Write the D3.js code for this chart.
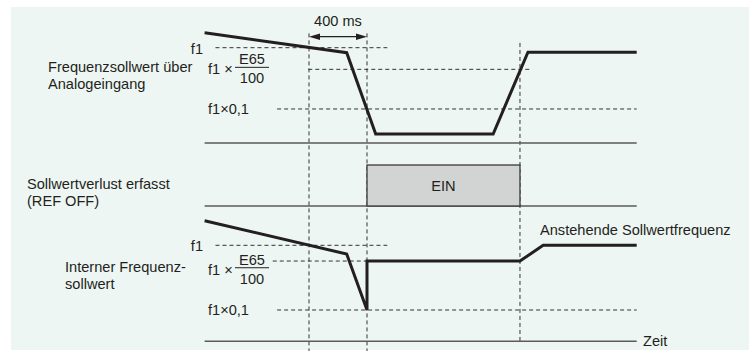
<!DOCTYPE html>
<html>
<head>
<meta charset="utf-8">
<script src="https://cdn.jsdelivr.net/npm/d3@7"></script>
<style>
  html, body { margin: 0; padding: 0; background: #ffffff; }
  svg { display: block; }
  text { font-family: "Liberation Sans", Arial, sans-serif; fill: #231f20; }
</style>
</head>
<body>
<svg id="chart" width="749" height="351"></svg>
<script>
// ---------------- data ----------------
// time in ms, t = 0 at start of reference loss detection window
const timeDomain = [-720, 2260];
const detectWindow = [0, 400];          // 400 ms window
const releaseTime = 1455;               // REF OFF goes off again
const windowLabel = "400 ms";

// levels in % of f1 (schematic)
const analogSignal = [
  { t: -720, v: 115.6 }, { t: 260, v: 94.8 }, { t: 460, v: 9.4 },
  { t: 1270, v: 9.4 }, { t: 1510, v: 95.2 }, { t: 2260, v: 95.2 }
];
const internalSignal = [
  { t: -720, v: 125.6 }, { t: 260, v: 90.9 }, { t: 400, v: 32.6 },
  { t: 400, v: 83.6 }, { t: 1455, v: 83.6 }, { t: 1615, v: 100 }, { t: 2260, v: 100 }
];
const refOffStates = [{ start: 400, end: 1455, label: "EIN" }];

const analogRefLevels = [
  { key: "f1",   v: 100,  t0: -645, t1: 540 },
  { key: "e65",  v: 77.3, t0: -5,   t1: 1540 },
  { key: "f01",  v: 35.7, t0: -220, t1: 2260 }
];
const internalRefLevels = [
  { key: "f1",   v: 100,  t0: -645, t1: 540 },
  { key: "e65",  v: 83.6, t0: -250, t1: 400 },
  { key: "f01",  v: 32.6, t0: -220, t1: 2260 }
];

const rowLabels = [
  ["Frequenzsollwert über", "Analogeingang"],
  ["Sollwertverlust erfasst", "(REF OFF)"],
  ["Interner Frequenz-", "sollwert"]
];
const levelLabels = { f1: "f1", mult: "f1 ×", num: "E65", den: "100", f01: "f1×0,1" };
const pendingLabel = "Anstehende Sollwertfrequenz";
const axisLabel = "Zeit";

// ---------------- drawing ----------------
const svg = d3.select("#chart");
const ink = "#231f20";
const gray = "#5a5a5a";
const FS = 14.6;

svg.append("rect").attr("x", 11).attr("y", 7).attr("width", 738).attr("height", 343)
  .attr("fill", "#eef6f3");

const x = d3.scaleLinear().domain(timeDomain).range([204.6, 636.7]);
const yTop = d3.scaleLinear().domain([0, 100]).range([143, 47.7]);
const yMid = d3.scaleLinear().domain([0, 1]).range([206, 165]);
const yBot = d3.scaleLinear().domain([0, 100]).range([341.3, 245.3]);

const line = (ys) => d3.line().x(d => x(d.t)).y(d => ys(d.v));

function dashedH(ys, lv) {
  svg.append("line")
    .attr("x1", x(lv.t0)).attr("x2", x(lv.t1))
    .attr("y1", ys(lv.v)).attr("y2", ys(lv.v))
    .attr("stroke", "#333").attr("stroke-width", 1)
    .attr("stroke-dasharray", "4,3");
}

// reference dashed levels
analogRefLevels.forEach(l => dashedH(yTop, l));
internalRefLevels.forEach(l => dashedH(yBot, l));

// vertical dashed guides
detectWindow.forEach(t => {
  svg.append("line").attr("x1", x(t)).attr("x2", x(t))
    .attr("y1", yTop(115)).attr("y2", yBot(-16))
    .attr("stroke", "#333").attr("stroke-width", 1).attr("stroke-dasharray", "4,3");
});
svg.append("line").attr("x1", x(releaseTime)).attr("x2", x(releaseTime))
  .attr("y1", yTop(105)).attr("y2", yBot(0))
  .attr("stroke", "#333").attr("stroke-width", 1).attr("stroke-dasharray", "4,3");

// baselines
[yTop(0), yMid(0), yBot(0)].forEach(yy => {
  svg.append("line").attr("x1", x(timeDomain[0])).attr("x2", x(timeDomain[1]))
    .attr("y1", yy).attr("y2", yy).attr("stroke", gray).attr("stroke-width", 1.5);
});

// REF OFF box
refOffStates.forEach(s => {
  svg.append("rect")
    .attr("x", x(s.start)).attr("y", yMid(1))
    .attr("width", x(s.end) - x(s.start)).attr("height", yMid(0) - yMid(1))
    .attr("fill", "#d2d3d3").attr("stroke", "#3a3a3a").attr("stroke-width", 1.3);
  svg.append("text").attr("x", (x(s.start) + x(s.end)) / 2).attr("y", yMid(0.5))
    .attr("dy", "0.35em").attr("text-anchor", "middle").attr("font-size", FS).text(s.label);
});

// signals
svg.append("path").datum(analogSignal).attr("d", line(yTop))
  .attr("fill", "none").attr("stroke", ink).attr("stroke-width", 3).attr("stroke-linejoin", "miter");
svg.append("path").datum(internalSignal).attr("d", line(yBot))
  .attr("fill", "none").attr("stroke", ink).attr("stroke-width", 3).attr("stroke-linejoin", "miter");

// 400 ms arrow
const ay = 36.7;
const ax0 = x(detectWindow[0]), ax1 = x(detectWindow[1]);
svg.append("line").attr("x1", ax0 + 8).attr("x2", ax1 - 8).attr("y1", ay).attr("y2", ay)
  .attr("stroke", ink).attr("stroke-width", 1.3);
svg.append("path").attr("d", `M${ax0},${ay} L${ax0 + 11},${ay - 3.2} L${ax0 + 11},${ay + 3.2} Z`).attr("fill", ink);
svg.append("path").attr("d", `M${ax1},${ay} L${ax1 - 11},${ay - 3.2} L${ax1 - 11},${ay + 3.2} Z`).attr("fill", ink);
svg.append("text").attr("x", (ax0 + ax1) / 2).attr("y", 21).attr("dy", "0.35em")
  .attr("text-anchor", "middle").attr("font-size", FS).text(windowLabel);

// row labels
const rowPos = [{ x: 48, y: 67 }, { x: 27, y: 184 }, { x: 65, y: 267 }];
rowLabels.forEach((lines, i) => {
  lines.forEach((s, j) => {
    svg.append("text").attr("x", rowPos[i].x).attr("y", rowPos[i].y + j * 16.5)
      .attr("dy", "0.35em").attr("font-size", FS).text(s);
  });
});

// level labels
function levelText(ys, levels, e65Offset) {
  const f1 = levels.find(l => l.key === "f1");
  const e65 = levels.find(l => l.key === "e65");
  const f01 = levels.find(l => l.key === "f01");
  svg.append("text").attr("x", 203).attr("y", ys(f1.v) + 1).attr("dy", "0.35em")
    .attr("text-anchor", "end").attr("font-size", FS).text(levelLabels.f1);
  const fy = ys(e65.v) + e65Offset;  // fraction bar position
  svg.append("text").attr("x", 208).attr("y", fy + 1.7).attr("dy", "0.35em")
    .attr("font-size", FS).text(levelLabels.mult);
  svg.append("line").attr("x1", 235).attr("x2", 269).attr("y1", fy).attr("y2", fy)
    .attr("stroke", ink).attr("stroke-width", 1);
  svg.append("text").attr("x", 252).attr("y", fy - 8.3).attr("dy", "0.35em")
    .attr("text-anchor", "middle").attr("font-size", FS).text(levelLabels.num);
  svg.append("text").attr("x", 252).attr("y", fy + 10.7).attr("dy", "0.35em")
    .attr("text-anchor", "middle").attr("font-size", FS).text(levelLabels.den);
  svg.append("text").attr("x", 208).attr("y", ys(f01.v)).attr("dy", "0.35em")
    .attr("font-size", FS).text(levelLabels.f01);
}
levelText(yTop, analogRefLevels, -2);
levelText(yBot, internalRefLevels, 6.7);

svg.append("text").attr("x", 540).attr("y", 230).attr("dy", "0.35em")
  .attr("font-size", FS).text(pendingLabel);
svg.append("text").attr("x", 643).attr("y", yBot(0)).attr("dy", "0.35em")
  .attr("font-size", FS).text(axisLabel);
</script>
</body>
</html>
